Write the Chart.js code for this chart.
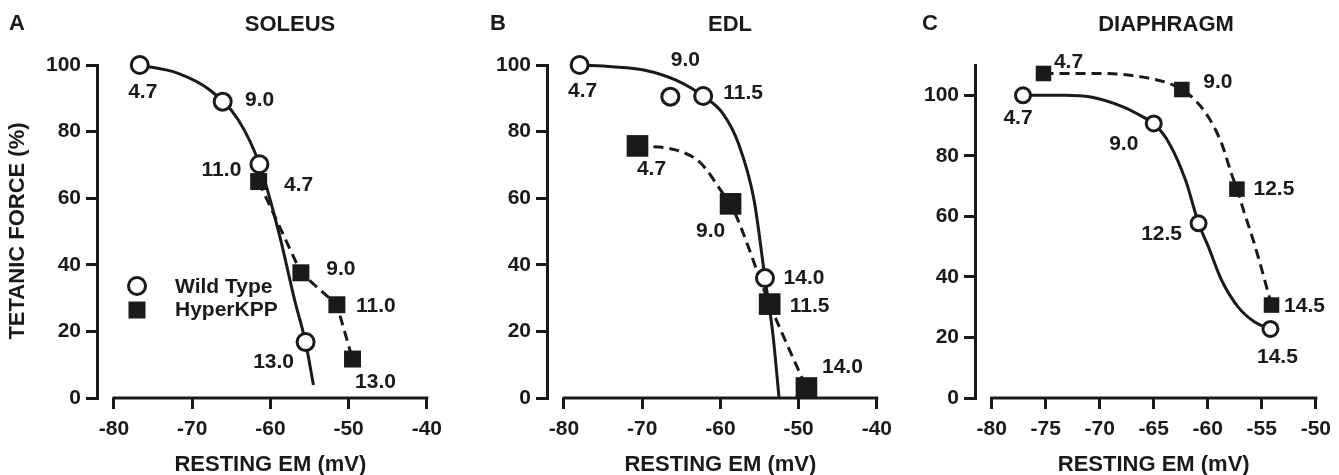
<!DOCTYPE html>
<html><head><meta charset="utf-8">
<script src="https://cdn.jsdelivr.net/npm/chart.js@4.4.1/dist/chart.umd.min.js"></script>
<style>
html,body{margin:0;padding:0;background:#fff;}
#wrap{position:relative;width:1339px;height:475px;overflow:hidden;background:#fff;}
canvas{position:absolute;top:0;}
</style></head><body>
<div id="wrap">
<canvas id="cA" width="450" height="475" style="left:0px"></canvas>
<canvas id="cB" width="450" height="475" style="left:450px"></canvas>
<canvas id="cC" width="439" height="475" style="left:900px"></canvas>
</div>
<script>
// ---------------- DATA ----------------
// Panel A - SOLEUS
const soleusWtX = [-76.7, -66.1, -61.4, -55.5];
const soleusWtY = [100, 89, 70.2, 16.8];
const soleusWtLabels = ['4.7', '9.0', '11.0', '13.0'];
const soleusHkX = [-61.5, -56.1, -51.5, -49.5];
const soleusHkY = [65, 37.6, 28, 11.7];
const soleusHkLabels = ['4.7', '9.0', '11.0', '13.0'];
const soleusWtFitX = [-76.8, -71.8, -67.75, -64.1, -61.4, -58.9, -56.9, -55.5, -54.5];
const soleusWtFitY = [100, 97.5, 92.5, 83.5, 70.2, 49.5, 29.4, 16.7, 3.9];
const soleusHkFitX = [-61.5, -56.1, -51.5, -49.5];
const soleusHkFitY = [65, 37.6, 28, 11.7];

// Panel B - EDL
const edlWtX = [-78.0, -66.4, -62.2, -54.3];
const edlWtY = [100, 90.5, 90.7, 36];
const edlWtLabels = ['4.7', '9.0', '11.5', '14.0'];
const edlHkX = [-70.6, -58.7, -53.7, -49.0];
const edlHkY = [75.7, 58.3, 28.2, 3];
const edlHkLabels = ['4.7', '9.0', '11.5', '14.0'];
const edlWtFitX = [-78, -73.8, -69.8, -65.75, -62.1, -59.7, -57.7, -55.7, -54.3, -53.3, -52.5];
const edlWtFitY = [100, 99.5, 98.5, 95.5, 90.5, 85.5, 76.5, 59.5, 36, 19.4, 0];
const edlHkFitX = [-70.6, -65.75, -62.5, -59.7, -58.7, -53.7, -49.0];
const edlHkFitY = [75.7, 74.5, 70.5, 61.5, 58.3, 28.2, 3];

// Panel C - DIAPHRAGM
const diaWtX = [-77.1, -65.0, -60.85, -54.2];
const diaWtY = [100, 90.7, 57.7, 22.8];
const diaWtLabels = ['4.7', '9.0', '12.5', '14.5'];
const diaHkX = [-75.2, -62.4, -57.3, -54.1];
const diaHkY = [107.2, 101.9, 69, 30.7];
const diaHkLabels = ['4.7', '9.0', '12.5', '14.5'];
const diaWtFitX = [-77.1, -73.2, -70.82, -67.79, -65.97, -65.0, -63.56, -62.05, -60.85, -59.94, -58.72, -57.2, -55.7, -54.2];
const diaWtFitY = [100, 100, 99.4, 96.1, 92.8, 90.7, 84.1, 71.9, 57.7, 49.9, 38.9, 30.1, 25.2, 22.8];
const diaHkFitX = [-75.2, -69.6, -66.0, -63.56, -62.4, -61.14, -59.94, -58.72, -57.82, -57.3, -56.6, -55.7, -54.1];
const diaHkFitY = [107.2, 107.2, 106, 103.9, 101.9, 98.3, 92.8, 84.1, 74.2, 69, 61, 51.1, 30.7];

// Tick labels
const xTicksAB = [-80, -70, -60, -50, -40];
const xTicksC = [-80, -75, -70, -65, -60, -55, -50];
const yTicks = [0, 20, 40, 60, 80, 100];

// Label offsets (px) - layout only
const soleusWtOff = [[3, 27], [37, -1], [-38, 6], [-32, 20]];
const soleusHkOff = [[40, 4], [40, -4], [39, 1], [23, 23]];
const edlWtOff = [[3, 26], [15, -36], [40, -3], [39, 0]];
const edlHkOff = [[14, 23], [-20, 27], [40, 2], [36, -21]];
const diaWtOff = [[-5, 23], [-30, 21], [-37, 11], [7, 28]];
const diaHkOff = [[25, -11], [36, -7], [37, 0], [33, 1]];

// ---------------- STYLE ----------------
const INK = '#1a1a1a';
const FONT = '"Liberation Sans", Arial, Helvetica, sans-serif';

function pts(xs, ys) { return xs.map((x, i) => ({x: x, y: ys[i]})); }

const textPlugin = {
  id: 'panelText',
  afterDraw(chart) {
    const c = chart.config.options.plugins.panelText;
    const ctx = chart.ctx;
    const xs = chart.scales.x, ys = chart.scales.y;
    const ca = chart.chartArea;
    ctx.save();
    ctx.fillStyle = INK;
    // x axis line (detached from y axis)
    ctx.strokeStyle = INK;
    ctx.lineWidth = 3;
    ctx.beginPath();
    ctx.moveTo(xs.getPixelForValue(c.xTicks[0]) - 1.5, ca.bottom);
    ctx.lineTo(xs.getPixelForValue(c.xTicks[c.xTicks.length - 1]) + 1.5, ca.bottom);
    ctx.stroke();
    // point labels
    ctx.font = 'bold 21px ' + FONT;
    ctx.textAlign = 'center';
    ctx.textBaseline = 'middle';
    c.labelSets.forEach(set => {
      set.labels.forEach((t, i) => {
        const px = xs.getPixelForValue(set.x[i]) + set.off[i][0];
        const py = ys.getPixelForValue(set.y[i]) + set.off[i][1];
        ctx.fillText(t, px, py);
      });
    });
    // panel letter and title
    ctx.font = 'bold 22px ' + FONT;
    ctx.textAlign = 'left';
    ctx.fillText(c.letter, c.letterX, 24);
    ctx.textAlign = 'center';
    ctx.fillText(c.title, c.titleX, 25);
    // x axis title
    const x0 = xs.getPixelForValue(c.xTicks[0]);
    const x1 = xs.getPixelForValue(c.xTicks[c.xTicks.length - 1]);
    ctx.textBaseline = 'alphabetic';
    ctx.fillText('RESTING EM (mV)', (x0 + x1) / 2, 471);
    // y axis title
    if (c.yTitle) {
      ctx.save();
      ctx.translate(18, 231);
      ctx.rotate(-Math.PI / 2);
      ctx.textBaseline = 'middle';
      ctx.fillText(c.yTitle, 0, 0);
      ctx.restore();
    }
    // legend
    if (c.legend) {
      ctx.lineWidth = 3;
      ctx.fillStyle = '#fff';
      ctx.beginPath();
      ctx.arc(137, 286, 8.5, 0, Math.PI * 2);
      ctx.fill();
      ctx.stroke();
      ctx.fillStyle = INK;
      ctx.fillRect(128.5, 301.5, 17, 17);
      ctx.font = 'bold 21px ' + FONT;
      ctx.textAlign = 'left';
      ctx.textBaseline = 'middle';
      ctx.fillText('Wild Type', 175, 287);
      ctx.fillText('HyperKPP', 175, 310);
    }
    ctx.restore();
  }
};

function makePanel(id, p) {
  const canvas = document.getElementById(id);
  const W = canvas.width, H = canvas.height;
  return new Chart(canvas, {
    type: 'line',
    data: {
      datasets: [
        {data: pts(p.wtX, p.wtY), showLine: false, pointStyle: 'circle', pointRadius: p.rWt,
         pointBorderWidth: 3, pointBackgroundColor: '#fff', pointBorderColor: INK, clip: false},
        {data: pts(p.hkX, p.hkY), showLine: false, pointStyle: 'rect', pointRadius: p.rHk,
         pointBorderWidth: 0, pointBackgroundColor: INK, pointBorderColor: INK, clip: false},
        {data: pts(p.wtFitX, p.wtFitY), borderColor: INK, borderWidth: 3, pointRadius: 0,
         cubicInterpolationMode: 'monotone', fill: false, clip: false},
        {data: pts(p.hkFitX, p.hkFitY), borderColor: INK, borderWidth: 3, borderDash: [10, 6], pointRadius: 0,
         cubicInterpolationMode: p.hkMono ? 'monotone' : 'default', tension: 0, fill: false, clip: false}
      ]
    },
    options: {
      responsive: false,
      animation: false,
      events: [],
      layout: {padding: {left: 0, right: W - p.right, top: p.top, bottom: 0}},
      plugins: {
        legend: {display: false},
        tooltip: {enabled: false},
        panelText: {
          xTicks: p.xTicks, letter: p.letter, letterX: p.letterX, title: p.title, titleX: p.titleX,
          yTitle: p.yTitle, legend: p.legend,
          labelSets: [
            {x: p.wtX, y: p.wtY, labels: p.wtLabels, off: p.wtOff},
            {x: p.hkX, y: p.hkY, labels: p.hkLabels, off: p.hkOff}
          ]
        }
      },
      scales: {
        x: {
          type: 'linear', min: p.xMin, max: p.xMax,
          afterBuildTicks: s => { s.ticks = p.xTicks.map(v => ({value: v})); },
          afterFit: s => { s.height = H - p.bottom; },
          border: {display: false},
          grid: {display: true, drawOnChartArea: false, drawTicks: true, tickLength: 11, lineWidth: 3, color: INK},
          ticks: {color: INK, font: {family: FONT, size: 21, weight: 'bold'}, padding: 8,
                  maxRotation: 0, autoSkip: false, callback: v => String(v)}
        },
        y: {
          type: 'linear', min: 0, max: p.yMax,
          afterBuildTicks: s => { s.ticks = yTicks.map(v => ({value: v})); },
          afterFit: s => { s.width = p.left; },
          border: {display: true, width: 3, color: INK},
          grid: {display: true, drawOnChartArea: false, drawTicks: true, tickLength: 11, lineWidth: 3, color: INK},
          ticks: {color: INK, font: {family: FONT, size: 21, weight: 'bold'}, padding: 5,
                  autoSkip: false, callback: v => String(v)}
        }
      }
    },
    plugins: [textPlugin]
  });
}

makePanel('cA', {
  wtX: soleusWtX, wtY: soleusWtY, wtLabels: soleusWtLabels, wtOff: soleusWtOff,
  hkX: soleusHkX, hkY: soleusHkY, hkLabels: soleusHkLabels, hkOff: soleusHkOff,
  wtFitX: soleusWtFitX, wtFitY: soleusWtFitY, hkFitX: soleusHkFitX, hkFitY: soleusHkFitY, hkMono: false,
  xTicks: xTicksAB, xMin: -82.17, xMax: -40, yMax: 100,
  left: 97, right: 447, top: 65, bottom: 398, rWt: 8.5, rHk: 12,
  letter: 'A', letterX: 9, title: 'SOLEUS', titleX: 290, yTitle: 'TETANIC FORCE (%)', legend: true
});
makePanel('cB', {
  wtX: edlWtX, wtY: edlWtY, wtLabels: edlWtLabels, wtOff: edlWtOff,
  hkX: edlHkX, hkY: edlHkY, hkLabels: edlHkLabels, hkOff: edlHkOff,
  wtFitX: edlWtFitX, wtFitY: edlWtFitY, hkFitX: edlHkFitX, hkFitY: edlHkFitY, hkMono: true,
  xTicks: xTicksAB, xMin: -82.17, xMax: -40, yMax: 100,
  left: 97, right: 447, top: 65, bottom: 398, rWt: 8.5, rHk: 15.3,
  letter: 'B', letterX: 40, title: 'EDL', titleX: 280, yTitle: null, legend: false
});
makePanel('cC', {
  wtX: diaWtX, wtY: diaWtY, wtLabels: diaWtLabels, wtOff: diaWtOff,
  hkX: diaHkX, hkY: diaHkY, hkLabels: diaHkLabels, hkOff: diaHkOff,
  wtFitX: diaWtFitX, wtFitY: diaWtFitY, hkFitX: diaHkFitX, hkFitY: diaHkFitY, hkMono: true,
  xTicks: xTicksC, xMin: -81.54, xMax: -50, yMax: 110,
  left: 75, right: 423, top: 65, bottom: 398, rWt: 7.5, rHk: 11,
  letter: 'C', letterX: 22, title: 'DIAPHRAGM', titleX: 266, yTitle: null, legend: false
});
</script>
</body></html>
